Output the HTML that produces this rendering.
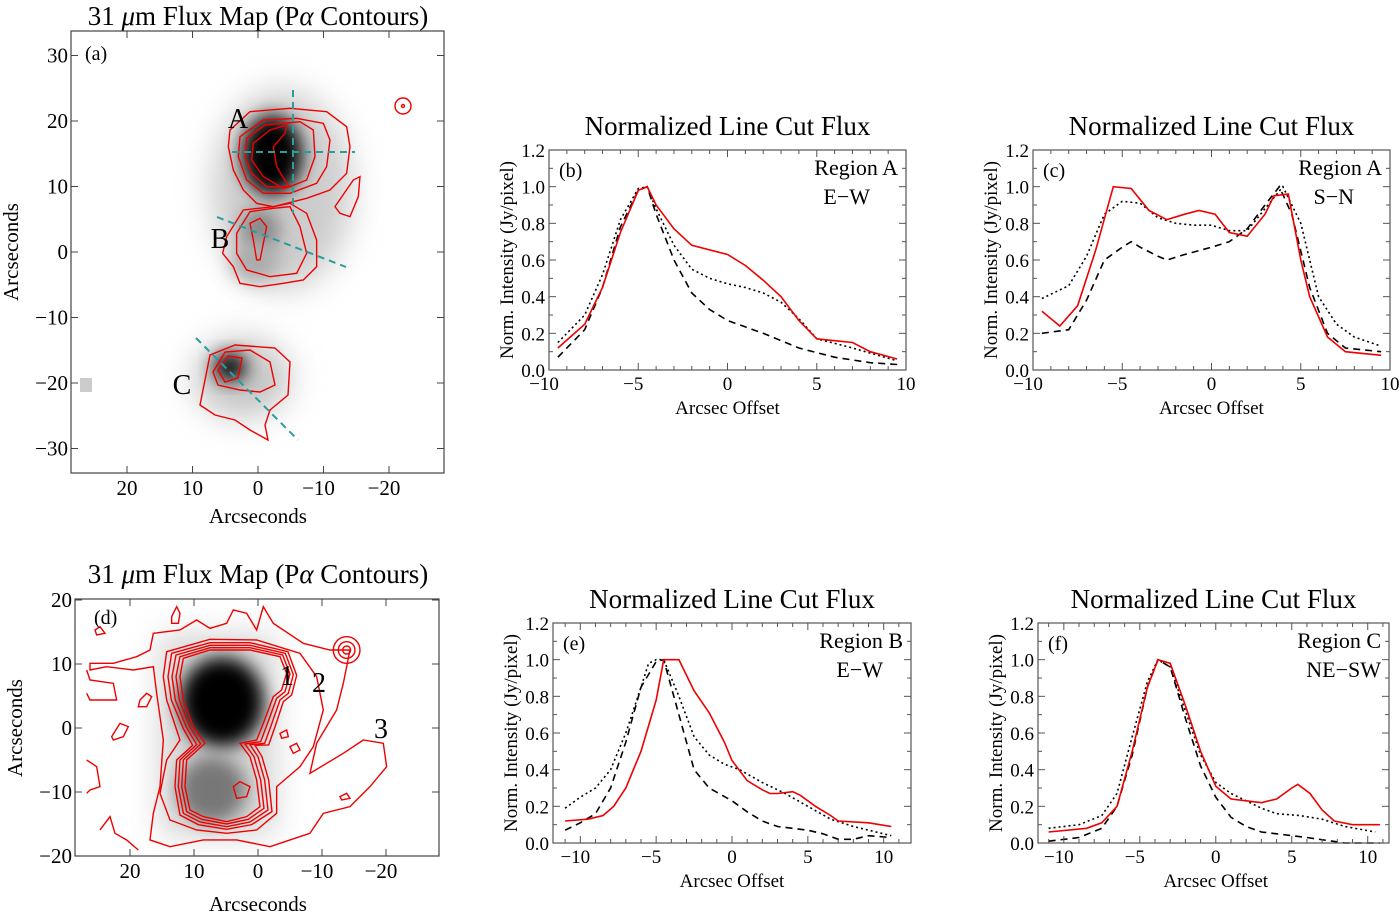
<!DOCTYPE html>
<html><head><meta charset="utf-8"><style>
body{margin:0;background:#fff;}
svg{display:block;font-family:"Liberation Serif",serif;}
</style></head><body>
<svg id="s" width="1400" height="917" viewBox="0 0 1400 917">
<defs>
<filter id="bl" x="-50%" y="-50%" width="200%" height="200%"><feGaussianBlur stdDeviation="9"/></filter>
<filter id="bl2" x="-50%" y="-50%" width="200%" height="200%"><feGaussianBlur stdDeviation="16"/></filter>
</defs>

<!-- Panel a -->
<g>
<text x="258" y="25" font-size="27" text-anchor="middle">31 <tspan font-style="italic">μ</tspan>m Flux Map (P<tspan font-style="italic">α</tspan> Contours)</text>
<g>
<ellipse cx="282" cy="190" rx="70" ry="100" fill="#ccc" filter="url(#bl2)"/>
<ellipse cx="272" cy="155" rx="30" ry="40" fill="#000" filter="url(#bl)"/>
<ellipse cx="260" cy="230" rx="20" ry="22" fill="#888" filter="url(#bl)"/>
<ellipse cx="255" cy="262" rx="24" ry="20" fill="#aaa" filter="url(#bl)"/>
<ellipse cx="242" cy="378" rx="48" ry="40" fill="#c4c4c4" filter="url(#bl2)"/>
<ellipse cx="230" cy="367" rx="16" ry="14" fill="#000" filter="url(#bl)"/>
<rect x="80" y="378" width="12" height="14" fill="#ccc"/>
</g>
<g fill="none" stroke="#e00" stroke-width="1.4">
<g transform="translate(150,80) scale(0.3333)" stroke-width="4.2">
<path d="M240,150 L300,95 420,85 530,95 590,140 600,200 590,280 540,330 470,355 410,370 370,380 320,370 280,330 250,270 235,200Z"/>
<path d="M270,170 L340,120 440,115 520,130 540,180 530,260 500,310 420,340 340,340 290,300 265,230Z"/>
<path d="M290,175 L345,135 450,125 490,150 495,230 470,300 420,320 350,320 305,280 285,230Z"/>
<path d="M310,190 L360,150 410,135 405,160 370,200 380,260 410,310 420,320 400,325 340,290 305,240Z"/>
<path d="M555,380 L610,300 630,290 625,350 600,410 570,400Z"/>
<path d="M300,430 L330,415 350,440 340,490 330,540 320,540 310,480Z"/>
<path d="M280,390 L230,470 218,520 250,560 270,610 330,620 400,610 460,600 500,560 500,480 470,400 420,370 370,380Z"/>
<path d="M300,395 L260,460 260,520 290,570 360,590 440,580 470,520 450,440 420,380 370,385Z"/>
</g>
<path d="M200,405 L210,355 235,345 275,348 290,362 288,395 270,410 265,425 268,440 250,430 235,420 215,415Z"/>
<path d="M213,372 L225,352 250,350 270,362 275,385 260,392 240,390 218,385Z"/>
<path d="M218,370 L228,356 242,358 238,378 225,382Z"/>
<circle cx="403" cy="106" r="8"/><circle cx="403" cy="106" r="1.5"/>
</g>
<g stroke="#2a9d9d" stroke-width="2" stroke-dasharray="7,5" fill="none">
<line x1="293" y1="90" x2="293" y2="213"/>
<line x1="232" y1="152" x2="355" y2="152"/>
<line x1="217" y1="217" x2="346" y2="267"/>
<line x1="196" y1="338" x2="298" y2="440"/>
</g>
<text x="238" y="128" font-size="28" text-anchor="middle">A</text>
<text x="220" y="248" font-size="28" text-anchor="middle">B</text>
<text x="182" y="394" font-size="28" text-anchor="middle">C</text>
<rect x="71" y="31" width="373" height="442" fill="none" stroke="#444" stroke-width="1.2"/>
<text x="85" y="60" font-size="20">(a)</text>
<g id="ticksA"></g>
<text x="258" y="523" font-size="21" text-anchor="middle">Arcseconds</text>
<text transform="translate(18,252) rotate(-90)" font-size="21" text-anchor="middle">Arcseconds</text>
</g>

<!-- Panel d -->
<g>
<text x="258" y="583" font-size="27" text-anchor="middle">31 <tspan font-style="italic">μ</tspan>m Flux Map (P<tspan font-style="italic">α</tspan> Contours)</text>
<g>
<rect x="160" y="635" width="115" height="200" fill="#d4d4d4" filter="url(#bl2)"/>
<ellipse cx="222" cy="702" rx="42" ry="45" fill="#000" filter="url(#bl)"/>
<ellipse cx="212" cy="790" rx="34" ry="34" fill="#777" filter="url(#bl)"/>
</g>
<g transform="translate(70,600) scale(0.3333)" fill="none" stroke="#e00" stroke-width="4.2">
<path d="M340,175 L420,150 540,150 630,170 650,220 635,270 610,290 580,370 560,420 510,430 540,470 560,540 570,620 530,650 470,665 400,650 360,630 345,560 350,480 405,430 370,380 340,300 330,230Z"/>
<path d="M330,170 L420,143 540,143 638,165 660,222 645,275 620,295 592,372 572,425 525,432 552,470 572,540 582,625 535,658 470,672 395,658 350,635 335,560 340,480 392,432 360,382 328,300 318,230Z"/>
<path d="M318,165 L420,136 540,136 646,160 670,224 655,280 630,300 604,375 584,430 540,434 564,470 584,540 594,630 540,666 470,680 390,666 340,640 325,560 330,480 380,434 350,384 316,300 306,230Z"/>
<path d="M305,160 L420,128 540,128 654,155 680,226 665,285 640,305 616,378 596,435 555,436 576,470 596,540 606,635 545,674 470,688 385,674 330,645 315,560 320,480 368,436 340,386 304,300 294,230Z"/>
<path d="M290,155 L420,118 560,120 690,160 740,230 760,330 730,440 690,500 620,560 620,640 560,690 470,700 380,690 300,660 270,580 290,480 330,420 290,300 280,230Z"/>
<path d="M250,100 L330,90 380,60 420,85 470,70 490,30 530,40 560,90 580,20 610,70 700,130 780,150 840,150 820,250 800,330 740,430 720,520 820,460 880,420 940,430 950,500 900,560 840,620 760,640 720,700 660,720 600,740 500,720 400,720 300,740 240,720 250,640 270,560 280,420 260,280 250,200 190,210 110,200 60,210 60,190 130,190 200,170 240,150Z"/>
<path d="M790,150 a40,40 0 1,0 80,0 a40,40 0 1,0 -80,0"/>
<path d="M805,150 a25,25 0 1,0 50,0 a25,25 0 1,0 -50,0"/>
<path d="M818,150 a12,12 0 1,0 24,0 a12,12 0 1,0 -24,0"/>
<path d="M210,300 L230,280 245,290 230,320 205,320Z"/>
<path d="M125,410 L150,370 175,380 160,410 130,420Z"/>
<path d="M305,50 L320,20 330,40 325,70 305,70Z"/>
<path d="M75,90 L90,80 105,100 80,105Z"/>
<path d="M630,400 L650,390 655,410 635,415Z"/>
<path d="M660,440 L680,430 690,450 670,460Z"/>
<path d="M490,560 L510,545 540,560 530,590 500,595Z"/>
<path d="M50,480 L80,500 90,560 60,570 50,580"/>
<path d="M90,690 L120,650 135,700 170,720 205,750"/>
<path d="M50,210 L60,240 130,250 140,300 60,300 50,280"/>
<path d="M810,590 L830,580 840,595 815,600Z"/>
</g>
<text x="287" y="685" font-size="28" text-anchor="middle">1</text>
<text x="319" y="692" font-size="28" text-anchor="middle">2</text>
<text x="381" y="738" font-size="28" text-anchor="middle">3</text>
<rect x="75" y="599" width="364" height="257" fill="none" stroke="#444" stroke-width="1.2"/>
<text x="94" y="624" font-size="20">(d)</text>
<g id="ticksD"></g>
<text x="258" y="911" font-size="21" text-anchor="middle">Arcseconds</text>
<text transform="translate(22,728) rotate(-90)" font-size="21" text-anchor="middle">Arcseconds</text>
</g>
<g id="plots"></g>
</svg>
<script>
// ---- data ----
const bX=[-9.5,-8,-7,-6,-5,-4.5,-4,-3,-2,0,1,2,3,4,5,6,7,8,9.5];
const bRed=[0.12,0.25,0.45,0.75,0.98,1.0,0.9,0.77,0.68,0.63,0.57,0.49,0.4,0.27,0.17,0.16,0.15,0.1,0.06];
const bDotX=[-9.5,-8,-7,-6,-5,-4.5,-4,-3,-2,-1,0,1,2,3,4,5,7,9.5];
const bDot=[0.15,0.3,0.52,0.82,0.99,1.0,0.88,0.68,0.55,0.5,0.47,0.45,0.42,0.37,0.28,0.17,0.12,0.05];
const bDashX=[-9.5,-8,-7,-6,-5,-4.5,-4,-3,-2,-1,0,2,4,6,8,9.5];
const bDash=[0.07,0.22,0.45,0.78,0.98,1.0,0.85,0.6,0.42,0.33,0.27,0.2,0.12,0.07,0.04,0.03];

const cRedX=[-9.5,-8.5,-7.5,-6.5,-5.5,-4.5,-3.5,-2.5,-1.5,-0.7,0.2,1,2,3,3.5,4.3,5,5.5,6.5,7.5,9.5];
const cRed=[0.32,0.24,0.35,0.65,1.0,0.99,0.87,0.82,0.85,0.87,0.85,0.75,0.73,0.85,0.95,0.96,0.6,0.4,0.18,0.1,0.08];
const cDotX=[-9.5,-8,-7,-6,-5,-4,-3,-2,-1,0,1,2,3,4,5,6,7,8,9.5];
const cDot=[0.39,0.46,0.62,0.85,0.92,0.91,0.83,0.8,0.79,0.79,0.76,0.76,0.88,1.0,0.8,0.4,0.25,0.18,0.13];
const cDashX=[-9.5,-8,-7,-6,-5,-4.5,-4,-3,-2.5,-1.5,0,1,2,3,3.8,4.5,5.5,6.5,7.5,9.5];
const cDash=[0.2,0.22,0.38,0.6,0.67,0.7,0.67,0.62,0.6,0.63,0.67,0.7,0.77,0.9,1.0,0.85,0.45,0.2,0.12,0.1];

const eRedX=[-11,-9.5,-8.5,-7.8,-7,-6,-5,-4.5,-3.5,-2.5,-1.5,-0.5,0,1,2,2.5,3,4,4.5,5.5,6.5,7,9,10.5];
const eRed=[0.12,0.13,0.15,0.2,0.3,0.5,0.78,1.0,1.0,0.83,0.71,0.55,0.45,0.34,0.29,0.27,0.27,0.28,0.26,0.2,0.15,0.12,0.11,0.09];
const eDotX=[-11,-10,-9,-8,-7,-6,-5.5,-5,-4.5,-3.5,-2.5,-1.5,-0.5,0.5,2,3.5,5,6.5,8,10.5];
const eDot=[0.19,0.25,0.3,0.4,0.6,0.85,0.98,1.0,1.0,0.8,0.58,0.48,0.43,0.4,0.33,0.27,0.2,0.13,0.09,0.04];
const eDashX=[-11,-10,-9,-8,-7,-6,-5,-4.5,-3.5,-2.5,-1.5,0,1,2,3,4,5,6,7,8,9,10.5];
const eDash=[0.07,0.11,0.16,0.3,0.55,0.85,0.99,1.0,0.7,0.4,0.3,0.23,0.17,0.12,0.09,0.08,0.07,0.05,0.02,0.02,0.04,0.03];

const fRedX=[-11,-8.5,-7.5,-6.5,-5.5,-4.5,-3.8,-3,-2,-1,0,1,2,3,4,5,5.4,6.2,7,7.8,9,10.8];
const fRed=[0.06,0.08,0.11,0.2,0.5,0.85,1.0,0.98,0.75,0.5,0.31,0.24,0.23,0.22,0.24,0.3,0.32,0.27,0.18,0.12,0.1,0.1];
const fDotX=[-11,-9,-7.5,-6.5,-5.5,-4.5,-3.8,-3,-2,-1,0,1,2,3,4,5.5,7,8.5,10.5];
const fDot=[0.08,0.1,0.15,0.27,0.58,0.88,1.0,0.96,0.72,0.48,0.33,0.27,0.23,0.19,0.16,0.15,0.13,0.09,0.06];
const fDashX=[-11,-9,-7.5,-6.5,-5.5,-4.5,-3.8,-3,-2,-1,0,1,2,3,4,6,8.5,10.8];
const fDash=[0.01,0.03,0.08,0.2,0.48,0.85,1.0,0.96,0.68,0.42,0.25,0.14,0.09,0.06,0.05,0.03,0.0,0.0];

const yTicks=[0,0.2,0.4,0.6,0.8,1.0,1.2];
const yTickLabels=["0.0","0.2","0.4","0.6","0.8","1.0","1.2"];
const xTicks=[-10,-5,0,5,10];
const xTickLabels=["\u221210","\u22125","0","5","10"];

const NS="http://www.w3.org/2000/svg";
function mk(tag,attrs,parent){const e=document.createElementNS(NS,tag);for(const k in attrs)e.setAttribute(k,attrs[k]);parent.appendChild(e);return e;}
const plots=document.getElementById('plots');

function panel(P){
  const g=mk('g',{},plots);
  
  
  const sx=v=>P.x0+(v-P.xmin)/(P.xmax-P.xmin)*(P.x1-P.x0);
  const sy=v=>P.y1-(v-0)/1.2*(P.y1-P.y0);
  const t=mk('text',{x:(P.x0+P.x1)/2,y:P.y0-15,'font-size':27,'text-anchor':'middle'},g);t.textContent='Normalized Line Cut Flux';
  
  
  const series=[[P.dashX,P.dash,'#000','7,5',1.6],[P.dotX,P.dot,'#000','2,3',1.6],[P.redX,P.red,'#e00','',1.6]];
  series.forEach((s,i)=>{
    const d=s[0].map((x,j)=>(j?'L':'M')+sx(x).toFixed(1)+','+sy(s[1][j]).toFixed(1)).join(' ');
    const p=mk('path',{d:d,fill:'none',stroke:s[2],'stroke-width':s[4],'stroke-dasharray':s[3]},g);
    
    
  });
  const fr=mk('rect',{x:P.x0,y:P.y0,width:P.x1-P.x0,height:P.y1-P.y0,fill:'none',stroke:'#555','stroke-width':1.2},g);
  
  
  yTicks.forEach((v,i)=>{
    const y=sy(v);
    mk('line',{x1:P.x0,x2:P.x0+7,y1:y,y2:y,stroke:'#555'},g);
    mk('line',{x1:P.x1,x2:P.x1-7,y1:y,y2:y,stroke:'#555'},g);
    if(i<6){const ym=sy(v+0.1);mk('line',{x1:P.x0,x2:P.x0+4,y1:ym,y2:ym,stroke:'#555'},g);mk('line',{x1:P.x1,x2:P.x1-4,y1:ym,y2:ym,stroke:'#555'},g);}
    const tx=mk('text',{x:P.x0-4,y:y+7,'font-size':19,'text-anchor':'end'},g);tx.textContent=yTickLabels[i];
    
    
  });
  xTicks.forEach((v,i)=>{
    const x=sx(v);
    mk('line',{x1:x,x2:x,y1:P.y1,y2:P.y1-7,stroke:'#555'},g);
    mk('line',{x1:x,x2:x,y1:P.y0,y2:P.y0+7,stroke:'#555'},g);
    const tx=mk('text',{x:x-(v<0?5:0),y:P.y1+20,'font-size':19,'text-anchor':'middle'},g);tx.textContent=xTickLabels[i];
    
    
  });
  for(let v=Math.ceil(P.xmin);v<=P.xmax;v++){if(v%5){const x=sx(v);mk('line',{x1:x,x2:x,y1:P.y1,y2:P.y1-4,stroke:'#555'},g);mk('line',{x1:x,x2:x,y1:P.y0,y2:P.y0+4,stroke:'#555'},g);}}
  const xl=mk('text',{x:sx(0),y:P.y1+44,'font-size':19,'text-anchor':'middle'},g);xl.textContent='Arcsec Offset';
  
  
  const yl=mk('text',{transform:`translate(${P.x0-36},${(P.y0+P.y1)/2}) rotate(-90)`,'font-size':19,'text-anchor':'middle'},g);yl.textContent='Norm. Intensity  (Jy/pixel)';
  
  
  const pl=mk('text',{x:P.x0+10,y:P.y0+27,'font-size':20},g);pl.textContent='('+P.id+')';
  
  
  const r1=mk('text',{x:P.x1-8,y:P.y0+25,'font-size':22,'text-anchor':'end'},g);r1.textContent=P.reg;
  
  
  const r2=mk('text',{x:P.x1-8-P.dirOff,y:P.y0+54,'font-size':22,'text-anchor':'end'},g);r2.textContent=P.dir;
  
  
}
panel({id:'b',x0:549,x1:906,y0:150,y1:370,xmin:-10,xmax:10,redX:bX,red:bRed,dotX:bDotX,dot:bDot,dashX:bDashX,dash:bDash,reg:'Region A',dir:'E\u2212W',dirOff:28});
panel({id:'c',x0:1033,x1:1390,y0:150,y1:370,xmin:-10,xmax:10,redX:cRedX,red:cRed,dotX:cDotX,dot:cDot,dashX:cDashX,dash:cDash,reg:'Region A',dir:'S\u2212N',dirOff:28});
panel({id:'e',x0:553,x1:911,y0:623,y1:843,xmin:-11.8,xmax:11.8,redX:eRedX,red:eRed,dotX:eDotX,dot:eDot,dashX:eDashX,dash:eDash,reg:'Region B',dir:'E\u2212W',dirOff:20});
panel({id:'f',x0:1038,x1:1389,y0:623,y1:843,xmin:-11.7,xmax:11.4,redX:fRedX,red:fRed,dotX:fDotX,dot:fDot,dashX:fDashX,dash:fDash,reg:'Region C',dir:'NE\u2212SW',dirOff:0});

// map ticks
const mapAX=[20,10,0,-10,-20], mapAY=[30,20,10,0,-10,-20,-30];
const mapDX=[20,10,0,-10,-20], mapDY=[20,10,0,-10,-20];
function mapTicks(id,fx,fy,xs,ys,x0,x1,y0,y1){
  const g=document.getElementById(id);
  xs.forEach(v=>{const x=fx(v);mk('line',{x1:x,x2:x,y1:y1,y2:y1-7,stroke:'#444'},g);mk('line',{x1:x,x2:x,y1:y0,y2:y0+7,stroke:'#444'},g);
    const t=mk('text',{x:x-(v<0?5:0),y:y1+22,'font-size':21,'text-anchor':'middle'},g);t.textContent=v<0?'\u2212'+(-v):String(v);
    
    });
  ys.forEach(v=>{const y=fy(v);mk('line',{x1:x0,x2:x0+7,y1:y,y2:y,stroke:'#444'},g);mk('line',{x1:x1,x2:x1-7,y1:y,y2:y,stroke:'#444'},g);
    const t=mk('text',{x:x0-3,y:y+7,'font-size':21,'text-anchor':'end'},g);t.textContent=v<0?'\u2212'+(-v):String(v);
    
    });
}
mapTicks('ticksA',v=>258-6.55*v,v=>252-6.55*v,mapAX,mapAY,71,444,31,473);
mapTicks('ticksD',v=>258-6.4*v,v=>728-6.4*v,mapDX,mapDY,75,439,599,856);
</script>
</body></html>
